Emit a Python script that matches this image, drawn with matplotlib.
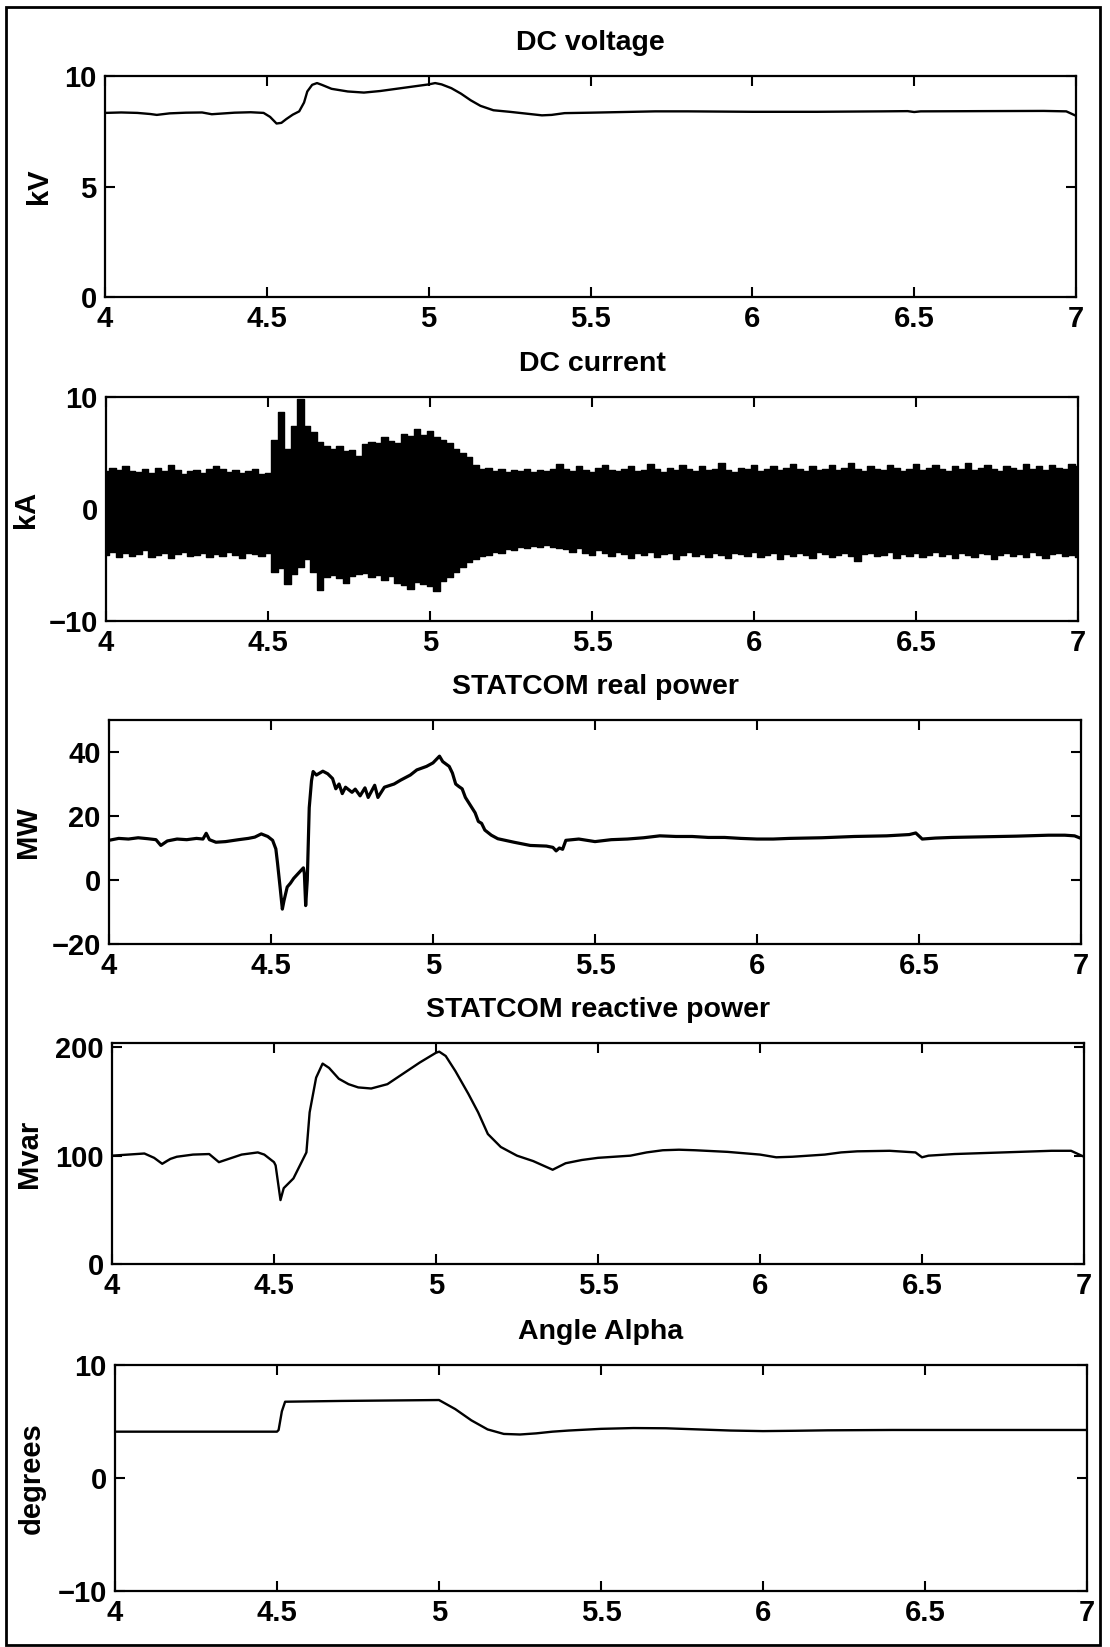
import numpy as np
import matplotlib
matplotlib.use("Agg")
import matplotlib.pyplot as plt
from matplotlib.patches import Rectangle

plt.rcParams['font.family'] = ['Liberation Sans', 'DejaVu Sans']
plt.rcParams['font.weight'] = 'bold'

# ---------------- data ----------------
x_ticks = [4, 4.5, 5, 5.5, 6, 6.5, 7]
x_tick_labels = ["4", "4.5", "5", "5.5", "6", "6.5", "7"]

titles = ["DC voltage", "DC current", "STATCOM real power",
          "STATCOM reactive power", "Angle Alpha"]
units = ["kV", "kA", "MW", "Mvar", "degrees"]
y_ticks = [[0, 5, 10], [-10, 0, 10], [-20, 0, 20, 40], [0, 100, 200], [-10, 0, 10]]
y_limits = [(0, 10), (-10, 10), (-20, 50), (0, 204), (-10, 10)]

# DC voltage (kV)
vdc_t = [4.00, 4.05, 4.10, 4.14, 4.16, 4.20, 4.25, 4.30, 4.33, 4.36, 4.40, 4.45,
         4.49, 4.51, 4.53, 4.545, 4.56, 4.58, 4.60, 4.615, 4.625, 4.64, 4.655,
         4.67, 4.70, 4.75, 4.80, 4.85, 4.90, 4.95, 5.00, 5.02, 5.04, 5.07, 5.10,
         5.13, 5.16, 5.20, 5.25, 5.30, 5.35, 5.38, 5.42, 5.50, 5.60, 5.70, 5.80,
         6.00, 6.20, 6.40, 6.48, 6.50, 6.52, 6.70, 6.90, 6.97, 7.00]
vdc_kv = [8.33, 8.35, 8.33, 8.28, 8.24, 8.31, 8.34, 8.35, 8.27, 8.30, 8.34, 8.36,
          8.33, 8.15, 7.85, 7.88, 8.05, 8.25, 8.40, 8.80, 9.30, 9.60, 9.68,
          9.60, 9.42, 9.30, 9.25, 9.32, 9.42, 9.52, 9.62, 9.68, 9.62, 9.45, 9.20,
          8.90, 8.65, 8.45, 8.38, 8.30, 8.22, 8.24, 8.32, 8.34, 8.37, 8.40, 8.40,
          8.38, 8.38, 8.40, 8.41, 8.37, 8.40, 8.41, 8.42, 8.40, 8.20]

# DC current: upper / lower envelope of the ripple band (kA), 0.02 s steps
idc_upper_a = [3.4, 3.7, 3.5, 3.8, 3.4, 3.3, 3.6, 3.2, 3.7, 3.4, 3.9, 3.5, 3.1,
               3.4, 3.5, 3.2, 3.6, 3.8, 3.6, 3.3, 3.5, 3.2, 3.4, 3.6, 3.1, 3.2]
idc_upper_b = [6.2, 8.7, 5.4, 7.4, 9.8, 7.4, 6.9, 6.0, 5.6, 5.4, 5.6, 5.2, 5.3,
               4.7, 5.8, 6.0, 5.9, 6.4, 6.1, 5.9, 6.7, 6.5, 7.1, 6.6, 7.0, 6.4,
               6.2, 5.9, 5.4, 5.0, 4.6, 3.9, 3.6, 3.7, 3.4, 3.6, 3.3, 3.5, 3.4,
               3.6, 3.3, 3.5, 3.4, 3.6, 4.0]
idc_upper_c = [3.6, 3.4, 3.8, 3.5, 3.3, 3.7, 3.9, 3.5, 3.4, 3.6, 3.8, 3.4, 3.5,
               4.0, 3.6, 3.3, 3.7, 3.5, 3.9, 3.6, 3.4, 3.8, 3.5, 3.6, 4.1, 3.5,
               3.3, 3.7, 3.6, 3.9, 3.4, 3.6, 3.8, 3.5, 3.7, 4.0, 3.6, 3.4, 3.8,
               3.5, 3.6, 3.9, 3.5, 3.7, 4.1, 3.6, 3.4, 3.8, 3.6, 3.5, 3.9, 3.7,
               3.4, 3.6, 4.0, 3.5, 3.7, 3.9, 3.6, 3.4, 3.8, 3.6, 4.1, 3.5, 3.7,
               3.9, 3.6, 3.4, 3.8, 3.7, 3.5, 4.0, 3.6, 3.8, 3.5, 3.9, 3.7, 3.6,
               4.0, 3.8]
idc_lower_a = [-4.1, -3.8, -4.3, -3.9, -4.2, -4.0, -3.7, -4.3, -4.1, -3.9, -4.4,
               -4.0, -3.8, -4.2, -4.1, -3.9, -4.3, -4.0, -4.2, -3.8, -4.1, -4.4,
               -3.9, -4.0, -4.2, -3.9]
idc_lower_b = [-5.6, -5.3, -6.7, -5.8, -5.2, -4.5, -5.6, -7.2, -6.1, -5.9, -6.2,
               -6.6, -6.0, -5.8, -5.7, -6.1, -5.9, -6.3, -6.0, -6.6, -6.8, -7.1,
               -6.5, -6.7, -6.9, -7.3, -6.4, -6.1, -5.6, -5.2, -4.7, -4.5, -4.2,
               -4.1, -3.8, -3.9, -3.6, -3.7, -3.4, -3.5, -3.3, -3.4, -3.2, -3.4,
               -3.5]
idc_lower_c = [-3.6, -3.8, -3.5, -3.9, -4.1, -3.7, -3.9, -4.2, -3.8, -4.0, -4.4,
               -3.9, -4.1, -3.8, -4.3, -4.0, -3.9, -4.5, -4.1, -3.8, -4.2, -4.0,
               -4.3, -3.9, -4.1, -4.4, -3.9, -4.0, -4.2, -3.8, -4.3, -4.1, -3.9,
               -4.5, -4.0, -4.2, -3.9, -4.1, -4.4, -3.8, -4.0, -4.3, -4.1, -3.9,
               -4.2, -4.6, -4.0, -3.9, -4.2, -4.1, -3.8, -4.4, -4.0, -4.2, -3.9,
               -4.3, -4.1, -3.8, -4.2, -4.0, -4.4, -3.9, -4.1, -4.3, -3.9, -4.0,
               -4.5, -4.1, -3.9, -4.2, -4.0, -4.3, -3.8, -4.1, -4.4, -4.0, -3.9,
               -4.2, -4.1, -4.3]

# STATCOM real power (MW)
p_t = [4.00, 4.03, 4.06, 4.09, 4.12, 4.145, 4.16, 4.18, 4.21, 4.24, 4.27, 4.29,
       4.30, 4.31, 4.33, 4.36, 4.40, 4.43, 4.45, 4.47, 4.49, 4.505, 4.515, 4.52,
       4.528, 4.535, 4.54, 4.55, 4.56, 4.57, 4.58, 4.59, 4.60, 4.603, 4.607,
       4.612, 4.618, 4.625, 4.63, 4.64, 4.65, 4.66, 4.675, 4.69, 4.70, 4.71,
       4.72, 4.73, 4.75, 4.76, 4.775, 4.79, 4.80, 4.82, 4.83, 4.85, 4.88, 4.90,
       4.93, 4.95, 4.98, 5.00, 5.02, 5.03, 5.05, 5.06, 5.07, 5.08, 5.09, 5.10,
       5.11, 5.12, 5.13, 5.14, 5.15, 5.16, 5.18, 5.20, 5.25, 5.30, 5.35, 5.37,
       5.38, 5.39, 5.40, 5.41, 5.45, 5.50, 5.55, 5.60, 5.65, 5.70, 5.75, 5.80,
       5.85, 5.90, 5.95, 6.00, 6.05, 6.10, 6.20, 6.30, 6.40, 6.47, 6.49, 6.51,
       6.55, 6.60, 6.70, 6.80, 6.90, 6.95, 6.98, 7.00]
p_mw = [12.4, 13.0, 12.8, 13.2, 12.9, 12.6, 10.8, 12.2, 12.8, 12.6, 13.0, 12.8,
        14.6, 12.6, 11.8, 12.0, 12.6, 13.0, 13.4, 14.4, 13.6, 12.4, 9.7, 5.4,
        -2.2, -9.1, -6.5, -2.2, -1.0, 0.5, 1.6, 2.7, 3.8, 2.0, -8.0,
        0.0, 22.6, 31.0, 33.9, 32.8, 33.4, 34.0, 33.2, 31.7, 28.5, 30.0,
        27.0, 29.0, 27.4, 28.4, 26.3, 28.8, 25.8, 29.6, 25.8, 29.0, 30.0, 31.2,
        32.8, 34.4, 35.5, 36.6, 38.7, 37.0, 35.5, 33.4, 30.0, 29.2, 28.5, 25.8,
        24.2, 22.6, 21.0, 18.3, 17.7, 15.6, 14.0, 12.9, 11.8, 10.8, 10.6, 10.2,
        9.1, 10.0, 9.6, 12.4, 12.8, 12.0, 12.6, 12.8, 13.2, 13.8, 13.6, 13.6,
        13.3, 13.3, 13.0, 12.8, 12.8, 13.0, 13.2, 13.6, 13.8, 14.2, 14.7, 12.8,
        13.1, 13.3, 13.5, 13.7, 14.0, 14.0, 13.8, 13.0]

# STATCOM reactive power (Mvar)
q_t = [4.00, 4.05, 4.10, 4.13, 4.155, 4.18, 4.20, 4.25, 4.30, 4.33, 4.36,
       4.40, 4.45, 4.47, 4.50, 4.505, 4.52, 4.53, 4.56, 4.60, 4.61, 4.62,
       4.63, 4.65, 4.67, 4.70, 4.73, 4.76, 4.80, 4.85, 4.90, 4.95, 5.00, 5.01,
       5.03, 5.06, 5.10, 5.13, 5.16, 5.20, 5.25, 5.30, 5.36, 5.40, 5.45, 5.50,
       5.55, 5.60, 5.65, 5.70, 5.75, 5.80, 5.90, 6.00, 6.05, 6.10, 6.20, 6.25,
       6.30, 6.40, 6.48, 6.50, 6.52, 6.60, 6.70, 6.80, 6.90, 6.96, 7.00]
q_mvar = [100, 101, 102, 98, 92.5, 97, 99, 101, 101.5, 94, 97,
          101, 103, 101, 94, 91, 59, 70, 79, 103, 140, 156,
          172, 185, 181, 171, 166, 163, 162, 166, 176, 186, 195, 196,
          192, 178, 157, 140, 120, 108, 100, 95, 87, 93, 96, 98,
          99, 100, 103, 105, 105.5, 105, 103.5, 101, 98.5, 99, 101, 103,
          104, 104.5, 103, 98.5, 100, 101.5, 102.5, 103.5, 104.5, 104.5, 99]

# Firing angle alpha (degrees)
a_t = [4.00, 4.50, 4.505, 4.515, 4.525, 4.70, 5.00, 5.05, 5.10, 5.15, 5.20,
       5.25, 5.30, 5.35, 5.40, 5.50, 5.60, 5.70, 5.80, 5.90, 6.00, 6.10, 6.20,
       6.40, 6.60, 6.80, 7.00]
a_deg = [4.1, 4.1, 4.25, 5.9, 6.75, 6.82, 6.9, 6.1, 5.1, 4.3, 3.9,
         3.85, 3.95, 4.1, 4.2, 4.35, 4.42, 4.4, 4.3, 4.2, 4.15, 4.18, 4.22,
         4.25, 4.25, 4.25, 4.25]

# ---------------- layout ----------------
W, H = 1110, 1647
fig = plt.figure(figsize=(W / 100, H / 100), dpi=100)
fig.patch.set_facecolor("white")

# panel boxes in pixels: left, top, right, bottom
boxes = [(105, 76, 1076, 297),
         (106, 397, 1078, 621),
         (109, 720, 1081, 944),
         (112, 1043, 1084, 1264),
         (115, 1365, 1087, 1591)]
label_x = [-0.054, -0.068, -0.069, -0.071, -0.071]

LW = 1.7
axes = []
for i, (l, t, r, b) in enumerate(boxes):
    ax = fig.add_axes([l / W, 1 - b / H, (r - l) / W, (b - t) / H])
    axes.append(ax)
    ax.set_xlim(4, 7)
    ax.set_ylim(*y_limits[i])
    ax.set_xticks(x_ticks)
    ax.set_xticklabels(x_tick_labels)
    ax.set_yticks(y_ticks[i])
    ax.tick_params(direction="in", length=7, width=1.5, top=True, right=True,
                   labelsize=21, pad=6)
    for sp in ax.spines.values():
        sp.set_linewidth(1.6)
    ax.set_title(titles[i], fontsize=20.5, pad=19, fontweight="bold")
    ax.set_ylabel(units[i], fontsize=21, fontweight="bold")
    ax.yaxis.set_label_coords(label_x[i], 0.5)

axes[0].plot(vdc_t, vdc_kv, color="black", lw=LW)

# DC current ripple band, drawn between its two envelopes
seg_a = np.linspace(4.00, 4.50, len(idc_upper_a))
seg_b = np.linspace(4.52, 5.40, len(idc_upper_b))
seg_c = np.linspace(5.42, 7.00, len(idc_upper_c))
env_t = np.concatenate([seg_a, seg_b, seg_c])
env_hi = np.concatenate([idc_upper_a, idc_upper_b, idc_upper_c])
env_lo = np.concatenate([np.interp(seg_a, np.linspace(4.00, 4.50, len(idc_lower_a)), idc_lower_a),
                         np.interp(seg_b, np.linspace(4.52, 5.40, len(idc_lower_b)), idc_lower_b),
                         np.interp(seg_c, np.linspace(5.42, 7.00, len(idc_lower_c)), idc_lower_c)])
axes[1].fill_between(env_t, env_lo, env_hi, step="mid", color="black", lw=0)
axes[1].step(env_t, env_hi, where="mid", color="black", lw=1.0)
axes[1].step(env_t, env_lo, where="mid", color="black", lw=1.0)

axes[2].plot(p_t, p_mw, color="black", lw=LW + 0.6)
axes[3].plot(q_t, q_mvar, color="black", lw=LW)
axes[4].plot(a_t, a_deg, color="black", lw=LW)

# outer frame around the whole figure
fig.add_artist(Rectangle((6 / W, 2 / H), (1100 - 6) / W, (1642 - 2 - 2) / H,
                         transform=fig.transFigure, fill=False,
                         edgecolor="black", lw=2.0))

fig.savefig("out.png", dpi=100)
